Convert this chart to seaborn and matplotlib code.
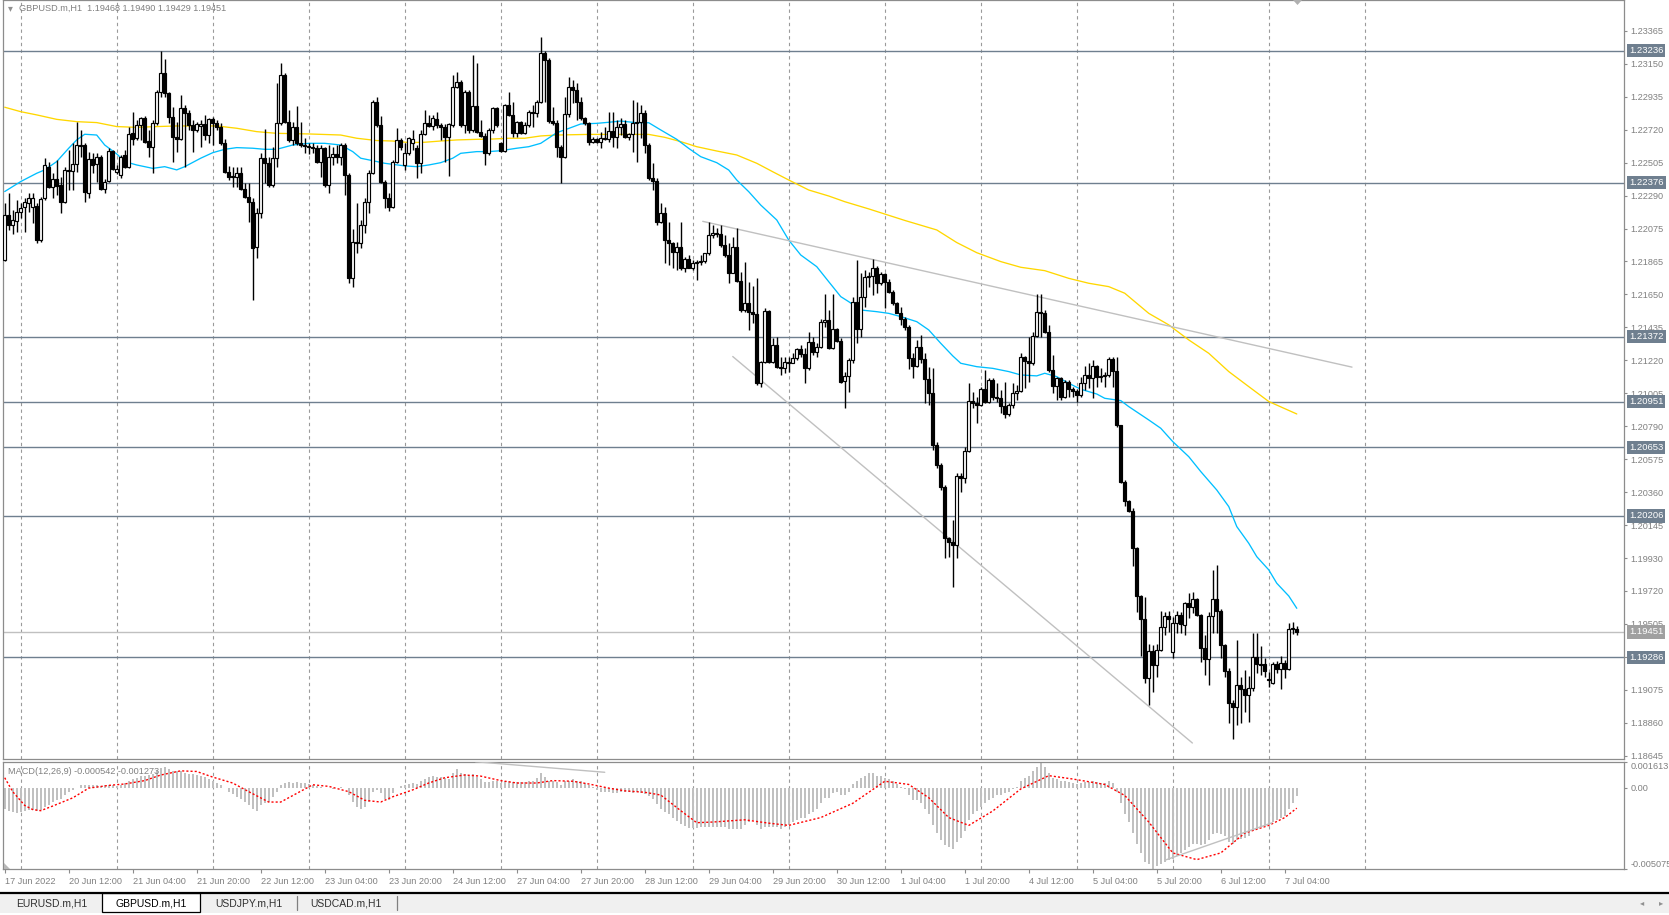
import numpy as np
import matplotlib
matplotlib.use("Agg")
import matplotlib.pyplot as plt
import matplotlib.transforms as mtransforms
from matplotlib.patches import Rectangle, Polygon
from matplotlib.lines import Line2D
import seaborn as sns

sns.set_style("white")
plt.rcParams['font.family'] = ['Liberation Sans', 'DejaVu Sans']

# ---- GBPUSD.m H1 candles, 17 Jun 2022 20:00 .. 7 Jul 2022 07:00 ----
opens = [
    1.21873, 1.22166, 1.22101, 1.22129, 1.22187, 1.22220, 1.22246, 1.22220, 1.22224, 1.22003,
    1.22274, 1.22480, 1.22346, 1.22398, 1.22361, 1.22252, 1.22459, 1.22454, 1.22498, 1.22615,
    1.22621, 1.22311, 1.22530, 1.22495, 1.22545, 1.22335, 1.22389, 1.22584, 1.22448, 1.22426,
    1.22556, 1.22480, 1.22697, 1.22665, 1.22752, 1.22795, 1.22647, 1.22606, 1.22767, 1.22964,
    1.23092, 1.22958, 1.22801, 1.22671, 1.22658, 1.22860, 1.22832, 1.22752, 1.22719, 1.22745,
    1.22756, 1.22686, 1.22788, 1.22762, 1.22741, 1.22632, 1.22448, 1.22411, 1.22411, 1.22437,
    1.22333, 1.22285, 1.22252, 1.21955, 1.22176, 1.22535, 1.22502, 1.22361, 1.22535, 1.22762,
    1.23077, 1.22773, 1.22654, 1.22741, 1.22632, 1.22621, 1.22615, 1.22606, 1.22600, 1.22513,
    1.22600, 1.22361, 1.22545, 1.22563, 1.22545, 1.22621, 1.22426, 1.21753, 1.21992, 1.21986,
    1.22101, 1.22252, 1.22441, 1.22903, 1.22752, 1.22383, 1.22274, 1.22220, 1.22513, 1.22654,
    1.22491, 1.22567, 1.22632, 1.22600, 1.22502, 1.22693, 1.22762, 1.22745, 1.22788, 1.22752,
    1.22741, 1.22671, 1.22752, 1.22997, 1.23034, 1.22752, 1.22969, 1.22719, 1.22875, 1.22708,
    1.22680, 1.22567, 1.22719, 1.22860, 1.22632, 1.22584, 1.22882, 1.22817, 1.22697, 1.22773,
    1.22702, 1.22752, 1.22838, 1.22828, 1.22903, 1.23218, 1.23175, 1.22780, 1.22762, 1.22610,
    1.22545, 1.22823, 1.23001, 1.22979, 1.22903, 1.22795, 1.22766, 1.22643, 1.22658, 1.22643,
    1.22664, 1.22658, 1.22714, 1.22675, 1.22740, 1.22758, 1.22675, 1.22693, 1.22762, 1.22773,
    1.22831, 1.22621, 1.22404, 1.22389, 1.22122, 1.22180, 1.22002, 1.21981, 1.21927, 1.21955,
    1.21818, 1.21877, 1.21822, 1.21855, 1.21861, 1.21868, 1.21916, 1.22035, 1.22050, 1.22042,
    1.21970, 1.21905, 1.21790, 1.21959, 1.21738, 1.21547, 1.21595, 1.21536, 1.21521, 1.21069,
    1.21210, 1.21542, 1.21210, 1.21319, 1.21178, 1.21167, 1.21210, 1.21204, 1.21232, 1.21291,
    1.21260, 1.21167, 1.21336, 1.21276, 1.21308, 1.21471, 1.21482, 1.21297, 1.21421, 1.21347,
    1.21087, 1.21118, 1.21222, 1.21601, 1.21421, 1.21634, 1.21764, 1.21769, 1.21818, 1.21721,
    1.21782, 1.21727, 1.21667, 1.21595, 1.21530, 1.21486, 1.21439, 1.21233, 1.21183, 1.21304,
    1.21226, 1.21096, 1.21005, 1.20668, 1.20538, 1.20397, 1.20061, 1.20039, 1.20017, 1.20467,
    1.20451, 1.20631, 1.20957, 1.20944, 1.20929, 1.21031, 1.20950, 1.21091, 1.20983, 1.20972,
    1.20922, 1.20868, 1.20929, 1.21005, 1.21022, 1.21239, 1.21217, 1.21204, 1.21378, 1.21536,
    1.21525, 1.21406, 1.21157, 1.21052, 1.21102, 1.20979, 1.21081, 1.21031, 1.21022, 1.20994,
    1.21074, 1.21124, 1.21102, 1.21183, 1.21113, 1.21118, 1.21124, 1.21226, 1.21152, 1.20799,
    1.20430, 1.20306, 1.20241, 1.19996, 1.19685, 1.19534, 1.19149, 1.19330, 1.19236, 1.19334,
    1.19481, 1.19555, 1.19323, 1.19512, 1.19562, 1.19497, 1.19638, 1.19612, 1.19664, 1.19562,
    1.19345, 1.19273, 1.19555, 1.19664, 1.19590, 1.19366, 1.19199, 1.18987, 1.18961, 1.19106,
    1.19078, 1.19041, 1.19084, 1.19286, 1.19243, 1.19243, 1.19139, 1.19117, 1.19243, 1.19208,
    1.19247, 1.19208, 1.19468, 1.19468,
]
highs = [
    1.22242, 1.22307, 1.22198, 1.22263, 1.22242, 1.22274, 1.22307, 1.22307, 1.22242, 1.22285,
    1.22535, 1.22513, 1.22437, 1.22524, 1.22415, 1.22480, 1.22589, 1.22632, 1.22773, 1.22719,
    1.22632, 1.22578, 1.22567, 1.22567, 1.22556, 1.22398, 1.22600, 1.22589, 1.22491, 1.22556,
    1.22589, 1.22741, 1.22838, 1.22784, 1.22806, 1.22810, 1.22719, 1.22784, 1.22979, 1.23235,
    1.23179, 1.22969, 1.22871, 1.22773, 1.22947, 1.22882, 1.22849, 1.22784, 1.22773, 1.22784,
    1.22817, 1.22795, 1.22801, 1.22784, 1.22762, 1.22658, 1.22485, 1.22480, 1.22480, 1.22480,
    1.22372, 1.22372, 1.22274, 1.22209, 1.22567, 1.22723, 1.22545, 1.22611, 1.23023, 1.23153,
    1.23088, 1.22849, 1.22773, 1.22875, 1.22773, 1.22665, 1.22632, 1.22632, 1.22621, 1.22621,
    1.22611, 1.22621, 1.22611, 1.22621, 1.22632, 1.22632, 1.22437, 1.22072, 1.22242, 1.22133,
    1.22274, 1.22459, 1.22914, 1.22936, 1.22810, 1.22394, 1.22307, 1.22524, 1.22730, 1.22665,
    1.22632, 1.22676, 1.22719, 1.22621, 1.22719, 1.22849, 1.22817, 1.22817, 1.22838, 1.22767,
    1.22758, 1.22767, 1.23077, 1.23099, 1.23045, 1.22979, 1.22979, 1.23207, 1.23153, 1.22784,
    1.22697, 1.22730, 1.22871, 1.22871, 1.22643, 1.22888, 1.22969, 1.22903, 1.22780, 1.22780,
    1.22773, 1.22849, 1.22882, 1.22914, 1.23327, 1.23235, 1.23186, 1.22871, 1.22784, 1.22621,
    1.22936, 1.23066, 1.23044, 1.23022, 1.22936, 1.22805, 1.22773, 1.22675, 1.22664, 1.22708,
    1.22740, 1.22838, 1.22838, 1.22784, 1.22795, 1.22784, 1.22701, 1.22914, 1.22903, 1.22881,
    1.22849, 1.22632, 1.22502, 1.22404, 1.22241, 1.22219, 1.22122, 1.21992, 1.21992, 1.22122,
    1.21894, 1.21905, 1.21872, 1.21872, 1.21905, 1.21916, 1.22122, 1.22100, 1.22078, 1.22100,
    1.22035, 1.21981, 1.22024, 1.22078, 1.21796, 1.21861, 1.21731, 1.21703, 1.21757, 1.21217,
    1.21558, 1.21547, 1.21362, 1.21373, 1.21243, 1.21243, 1.21243, 1.21265, 1.21297, 1.21319,
    1.21297, 1.21406, 1.21373, 1.21330, 1.21486, 1.21651, 1.21547, 1.21651, 1.21427, 1.21362,
    1.21146, 1.21233, 1.21634, 1.21873, 1.21786, 1.21808, 1.21797, 1.21877, 1.21834, 1.21797,
    1.21790, 1.21747, 1.21677, 1.21601, 1.21569, 1.21504, 1.21450, 1.21265, 1.21352, 1.21384,
    1.21265, 1.21178, 1.21167, 1.20690, 1.20549, 1.20408, 1.20072, 1.20180, 1.20484, 1.20484,
    1.20657, 1.21070, 1.21016, 1.20983, 1.21044, 1.21157, 1.21102, 1.21102, 1.21070, 1.21026,
    1.21081, 1.20940, 1.21074, 1.21059, 1.21265, 1.21248, 1.21374, 1.21406, 1.21651, 1.21651,
    1.21547, 1.21450, 1.21254, 1.21113, 1.21113, 1.21091, 1.21091, 1.21048, 1.21031, 1.21113,
    1.21183, 1.21200, 1.21222, 1.21189, 1.21167, 1.21146, 1.21243, 1.21243, 1.21243, 1.20799,
    1.20441, 1.20310, 1.20256, 1.20007, 1.19692, 1.19681, 1.19373, 1.19366, 1.19373, 1.19590,
    1.19583, 1.19590, 1.19551, 1.19590, 1.19583, 1.19649, 1.19707, 1.19714, 1.19671, 1.19568,
    1.19432, 1.19583, 1.19855, 1.19887, 1.19599, 1.19373, 1.19215, 1.19008, 1.19399, 1.19160,
    1.19204, 1.19165, 1.19442, 1.19442, 1.19360, 1.19280, 1.19193, 1.19258, 1.19264, 1.19295,
    1.19269, 1.19512, 1.19518, 1.19490,
]
lows = [
    1.21868, 1.22068, 1.22042, 1.22057, 1.22144, 1.22057, 1.22187, 1.22111, 1.21981, 1.21992,
    1.22263, 1.22339, 1.22274, 1.22296, 1.22176, 1.22242, 1.22328, 1.22328, 1.22448, 1.22545,
    1.22252, 1.22274, 1.22437, 1.22383, 1.22328, 1.22307, 1.22383, 1.22459, 1.22433, 1.22404,
    1.22469, 1.22469, 1.22621, 1.22654, 1.22654, 1.22637, 1.22545, 1.22441, 1.22752, 1.22936,
    1.22936, 1.22767, 1.22513, 1.22578, 1.22654, 1.22480, 1.22719, 1.22578, 1.22708, 1.22611,
    1.22654, 1.22632, 1.22621, 1.22719, 1.22621, 1.22437, 1.22393, 1.22350, 1.22350, 1.22328,
    1.22274, 1.22122, 1.21612, 1.21884, 1.22144, 1.22372, 1.22350, 1.22350, 1.22480, 1.22752,
    1.22762, 1.22643, 1.22621, 1.22621, 1.22611, 1.22567, 1.22563, 1.22567, 1.22502, 1.22415,
    1.22350, 1.22307, 1.22491, 1.22506, 1.22491, 1.22296, 1.21721, 1.21695, 1.21916, 1.21949,
    1.22046, 1.22176, 1.22433, 1.22741, 1.22372, 1.22209, 1.22194, 1.22209, 1.22502, 1.22589,
    1.22459, 1.22556, 1.22589, 1.22404, 1.22437, 1.22686, 1.22741, 1.22719, 1.22730, 1.22654,
    1.22513, 1.22420, 1.22741, 1.22990, 1.22741, 1.22697, 1.22697, 1.22708, 1.22697, 1.22676,
    1.22491, 1.22556, 1.22697, 1.22741, 1.22578, 1.22578, 1.22810, 1.22676, 1.22676, 1.22693,
    1.22693, 1.22741, 1.22741, 1.22806, 1.22893, 1.22903, 1.22762, 1.22752, 1.22545, 1.22371,
    1.22534, 1.22805, 1.22892, 1.22784, 1.22784, 1.22751, 1.22621, 1.22632, 1.22632, 1.22599,
    1.22653, 1.22643, 1.22610, 1.22599, 1.22686, 1.22664, 1.22653, 1.22578, 1.22512, 1.22664,
    1.22567, 1.22393, 1.22328, 1.22100, 1.22111, 1.21851, 1.21840, 1.21818, 1.21807, 1.21807,
    1.21796, 1.21818, 1.21807, 1.21742, 1.21840, 1.21851, 1.21905, 1.22013, 1.22024, 1.21959,
    1.21894, 1.21720, 1.21785, 1.21731, 1.21536, 1.21536, 1.21417, 1.21460, 1.21059, 1.21048,
    1.21200, 1.21200, 1.21200, 1.21167, 1.21124, 1.21134, 1.21145, 1.21200, 1.21221, 1.21243,
    1.21069, 1.21156, 1.21254, 1.21243, 1.21297, 1.21438, 1.21291, 1.21291, 1.21341, 1.21069,
    1.20907, 1.21016, 1.21200, 1.21330, 1.21374, 1.21569, 1.21699, 1.21645, 1.21656, 1.21710,
    1.21558, 1.21656, 1.21580, 1.21525, 1.21450, 1.21417, 1.21161, 1.21102, 1.21178, 1.21200,
    1.20940, 1.20929, 1.20636, 1.20516, 1.20375, 1.19931, 1.19941, 1.19746, 1.19931, 1.20365,
    1.20419, 1.20625, 1.20907, 1.20814, 1.20922, 1.20944, 1.20944, 1.20961, 1.20950, 1.20879,
    1.20842, 1.20857, 1.20907, 1.20961, 1.21016, 1.21037, 1.21081, 1.21189, 1.21369, 1.21374,
    1.21395, 1.21146, 1.21005, 1.20961, 1.20961, 1.20972, 1.20983, 1.20983, 1.20950, 1.20983,
    1.21026, 1.21037, 1.20972, 1.21048, 1.21081, 1.21048, 1.21113, 1.21048, 1.20788, 1.20419,
    1.20274, 1.20234, 1.19881, 1.19583, 1.19295, 1.19117, 1.18976, 1.19063, 1.19160, 1.19330,
    1.19432, 1.19453, 1.19280, 1.19447, 1.19447, 1.19432, 1.19540, 1.19573, 1.19555, 1.19258,
    1.19171, 1.19106, 1.19442, 1.19442, 1.19280, 1.19156, 1.18856, 1.18752, 1.18846, 1.18856,
    1.18932, 1.18867, 1.19069, 1.19182, 1.19171, 1.19160, 1.19095, 1.19113, 1.19182, 1.19078,
    1.19149, 1.19204, 1.19438, 1.19429,
]
closes = [
    1.22166, 1.22101, 1.22133, 1.22187, 1.22209, 1.22252, 1.22274, 1.22274, 1.22003, 1.22268,
    1.22491, 1.22350, 1.22398, 1.22354, 1.22252, 1.22459, 1.22454, 1.22498, 1.22621, 1.22621,
    1.22318, 1.22530, 1.22491, 1.22541, 1.22335, 1.22383, 1.22584, 1.22467, 1.22465, 1.22545,
    1.22480, 1.22691, 1.22658, 1.22752, 1.22795, 1.22643, 1.22606, 1.22767, 1.22969, 1.23092,
    1.22962, 1.22801, 1.22671, 1.22658, 1.22860, 1.22832, 1.22752, 1.22719, 1.22758, 1.22758,
    1.22686, 1.22788, 1.22762, 1.22741, 1.22632, 1.22448, 1.22415, 1.22420, 1.22437, 1.22333,
    1.22285, 1.22252, 1.21949, 1.22181, 1.22539, 1.22502, 1.22361, 1.22535, 1.22762, 1.23077,
    1.22773, 1.22654, 1.22741, 1.22632, 1.22621, 1.22615, 1.22606, 1.22600, 1.22513, 1.22600,
    1.22361, 1.22545, 1.22563, 1.22545, 1.22621, 1.22426, 1.21753, 1.21992, 1.21986, 1.22101,
    1.22252, 1.22441, 1.22903, 1.22752, 1.22383, 1.22274, 1.22220, 1.22513, 1.22654, 1.22606,
    1.22571, 1.22665, 1.22658, 1.22502, 1.22693, 1.22762, 1.22745, 1.22795, 1.22752, 1.22741,
    1.22671, 1.22758, 1.22997, 1.23034, 1.22752, 1.22969, 1.22719, 1.22875, 1.22708, 1.22680,
    1.22567, 1.22719, 1.22860, 1.22752, 1.22584, 1.22882, 1.22817, 1.22697, 1.22773, 1.22702,
    1.22752, 1.22838, 1.22828, 1.22903, 1.23218, 1.23175, 1.22780, 1.22762, 1.22610, 1.22545,
    1.22823, 1.23001, 1.22979, 1.22903, 1.22795, 1.22766, 1.22643, 1.22658, 1.22643, 1.22664,
    1.22658, 1.22714, 1.22675, 1.22740, 1.22758, 1.22675, 1.22693, 1.22762, 1.22773, 1.22831,
    1.22621, 1.22404, 1.22389, 1.22122, 1.22180, 1.22002, 1.21981, 1.21927, 1.21955, 1.21818,
    1.21877, 1.21822, 1.21855, 1.21861, 1.21868, 1.21916, 1.22035, 1.22050, 1.22042, 1.21970,
    1.21905, 1.21790, 1.21959, 1.21738, 1.21547, 1.21595, 1.21536, 1.21521, 1.21069, 1.21210,
    1.21542, 1.21210, 1.21319, 1.21178, 1.21167, 1.21210, 1.21204, 1.21232, 1.21291, 1.21260,
    1.21167, 1.21336, 1.21276, 1.21308, 1.21471, 1.21482, 1.21297, 1.21421, 1.21347, 1.21080,
    1.21118, 1.21222, 1.21601, 1.21421, 1.21634, 1.21764, 1.21769, 1.21818, 1.21721, 1.21782,
    1.21727, 1.21667, 1.21595, 1.21530, 1.21486, 1.21439, 1.21233, 1.21183, 1.21304, 1.21226,
    1.21096, 1.21005, 1.20668, 1.20538, 1.20397, 1.20061, 1.20039, 1.20017, 1.20467, 1.20451,
    1.20631, 1.20957, 1.20944, 1.20929, 1.21031, 1.20950, 1.21091, 1.20983, 1.20972, 1.20922,
    1.20868, 1.20929, 1.21005, 1.21022, 1.21239, 1.21217, 1.21204, 1.21378, 1.21536, 1.21525,
    1.21406, 1.21157, 1.21052, 1.21102, 1.20979, 1.21081, 1.21031, 1.21022, 1.20994, 1.21074,
    1.21124, 1.21102, 1.21183, 1.21113, 1.21118, 1.21124, 1.21226, 1.21152, 1.20799, 1.20430,
    1.20306, 1.20241, 1.19996, 1.19685, 1.19534, 1.19149, 1.19330, 1.19236, 1.19334, 1.19481,
    1.19555, 1.19534, 1.19512, 1.19562, 1.19503, 1.19638, 1.19612, 1.19664, 1.19562, 1.19345,
    1.19273, 1.19555, 1.19664, 1.19590, 1.19366, 1.19199, 1.18987, 1.18961, 1.19106, 1.19078,
    1.19041, 1.19084, 1.19286, 1.19243, 1.19238, 1.19199, 1.19143, 1.19243, 1.19208, 1.19247,
    1.19208, 1.19468, 1.19475, 1.19451,
]

# moving averages read at sample bars (bar index, price)
ma_fast_idx = [0, 4, 8, 10, 13, 16, 18, 20, 23, 25, 28, 30, 33, 37, 40, 43, 45, 49, 52, 55,
               58, 62, 65, 68, 72, 76, 80, 84, 87, 89, 92, 95, 100, 103, 106, 109, 112, 114, 118, 121,
               124, 128, 131, 134, 138, 141, 144, 148, 151, 154, 158, 161, 164, 168, 171, 174, 178, 181, 183, 186,
               189, 193, 196, 199, 203, 206, 209, 211, 214, 218, 221, 224, 228, 231, 234, 237, 239, 243, 247, 251,
               254, 258, 260, 263, 266, 269, 273, 275, 279, 281, 286, 289, 292, 296, 299, 303, 306, 308, 311, 313,
               316, 318, 321, 323]
ma_fast = [1.22318, 1.22383, 1.22437, 1.22459, 1.22513, 1.22600, 1.22654, 1.22691, 1.22686, 1.22621,
           1.22563, 1.22513, 1.22491, 1.22469, 1.22480, 1.22459, 1.22480, 1.22535, 1.22571, 1.22593,
           1.22604, 1.22600, 1.22593, 1.22593, 1.22621, 1.22632, 1.22632, 1.22621, 1.22578, 1.22535,
           1.22519, 1.22502, 1.22485, 1.22480, 1.22491, 1.22506, 1.22535, 1.22567, 1.22578, 1.22578,
           1.22584, 1.22600, 1.22610, 1.22632, 1.22701, 1.22729, 1.22758, 1.22762, 1.22769, 1.22777,
           1.22766, 1.22766, 1.22719, 1.22658, 1.22599, 1.22545, 1.22506, 1.22458, 1.22393, 1.22317,
           1.22230, 1.22133, 1.22002, 1.21905, 1.21829, 1.21731, 1.21634, 1.21601, 1.21547, 1.21536,
           1.21525, 1.21504, 1.21471, 1.21417, 1.21330, 1.21248, 1.21200, 1.21178, 1.21167, 1.21146,
           1.21124, 1.21118, 1.21135, 1.21113, 1.21070, 1.21031, 1.21000, 1.20972, 1.20957, 1.20918,
           1.20831, 1.20777, 1.20690, 1.20592, 1.20495, 1.20375, 1.20267, 1.20137, 1.20028, 1.19941,
           1.19855, 1.19768, 1.19685, 1.19605]
ma_slow_idx = [0, 4, 8, 13, 18, 23, 28, 33, 38, 43, 48, 53, 58, 63, 68, 76, 84, 88, 93, 97,
               101, 105, 109, 113, 118, 122, 126, 130, 134, 138, 146, 154, 161, 165, 169, 173, 178, 183, 188, 192,
               196, 201, 206, 210, 216, 225, 233, 238, 243, 249, 254, 260, 266, 271, 276, 280, 286, 291, 296, 301,
               306, 311, 316, 323]
ma_slow = [1.22867, 1.22838, 1.22817, 1.22788, 1.22773, 1.22767, 1.22741, 1.22736, 1.22741, 1.22745,
           1.22745, 1.22745, 1.22730, 1.22708, 1.22697, 1.22693, 1.22686, 1.22665, 1.22650, 1.22647,
           1.22637, 1.22639, 1.22647, 1.22654, 1.22658, 1.22660, 1.22665, 1.22665, 1.22680, 1.22686,
           1.22690, 1.22690, 1.22690, 1.22671, 1.22643, 1.22610, 1.22582, 1.22556, 1.22502, 1.22447,
           1.22393, 1.22328, 1.22289, 1.22252, 1.22205, 1.22130, 1.22068, 1.21986, 1.21920, 1.21862,
           1.21825, 1.21803, 1.21753, 1.21721, 1.21699, 1.21656, 1.21525, 1.21450, 1.21352, 1.21265,
           1.21146, 1.21048, 1.20951, 1.20870]

# MACD(12,26,9) main histogram, one value per bar, in units of 1e-4
macd_main_e4 = [
    -13.2, -14.3, -15.3, -15.8, -15.3, -14.3, -13.6, -13.6, -14.3, -13.6,
    -12.1, -10.6, -8.9, -7.8, -6.7, -4.5, -2.8, -1.3, -0.2, 1.5,
    1.9, 1.9, 1.5, 1.5, 1.3, 1.5, 1.9, 1.5, 0.9, 1.9,
    3.0, 4.5, 5.2, 6.3, 7.3, 7.3, 8.0, 8.9, 10.6, 12.3,
    13.2, 11.7, 10.6, 10.2, 10.6, 9.5, 8.9, 8.4, 8.0, 7.3,
    6.7, 5.8, 4.5, 3.0, 1.5, -0.2, -2.4, -4.1, -5.6, -6.7,
    -8.9, -10.6, -13.2, -14.3, -11.0, -9.3, -8.9, -5.6, -2.4, 1.9,
    3.0, 3.7, 3.0, 3.7, 3.0, 3.0, 2.4, 1.5, 0.9, 0.2,
    -0.2, -0.2, -0.6, -0.2, 0.2, -0.2, -4.5, -8.9, -12.1, -13.2,
    -12.1, -8.9, -2.4, -1.3, -3.5, -6.7, -7.8, -3.5, -0.2, 0.9,
    1.5, 2.4, 3.0, 2.4, 4.1, 5.8, 6.7, 7.3, 6.7, 6.7,
    6.3, 5.8, 9.5, 11.7, 9.5, 8.9, 7.3, 8.9, 6.7, 5.2,
    3.7, 3.7, 4.5, 4.1, 3.0, 4.1, 4.1, 3.7, 3.7, 3.7,
    3.7, 4.1, 4.1, 6.3, 9.5, 6.7, 4.5, 4.1, 3.7, 1.9,
    4.1, 4.5, 5.2, 4.5, 4.1, 3.0, 1.5, 0.2, -1.3, -2.4,
    -2.8, -2.8, -3.5, -3.5, -2.8, -2.8, -2.8, -3.5, -2.8, -3.5,
    -4.1, -5.0, -6.7, -9.9, -13.2, -14.9, -16.4, -18.6, -20.7, -22.9,
    -24.0, -25.1, -25.1, -25.1,
    -24.8, -24.8, -24.8, -24.8, -24.8, -24.8, -24.8, -25.5, -25.5, -25.5,
    -25.5, -23.5, -21.4, -20.0, -23.5, -25.5, -24.2, -24.8, -24.2, -24.8,
    -25.5, -24.2, -23.5, -21.4, -20.0, -18.6, -18.6, -16.6, -15.2, -13.1,
    -9.7, -6.2, -6.2, -3.5, -2.8, -4.8, -4.8, -2.8, 2.1, 4.1,
    6.2, 7.6, 9.0, 9.0, 7.6, 7.6, 6.2, 5.5, 4.1, 2.1,
    0.7, -0.7, -4.8, -7.6, -7.6, -9.7, -13.1, -16.6, -23.5, -28.3,
    -32.4, -35.9, -37.3, -38.0, -33.8, -31.1, -26.9, -20.0, -16.6, -14.5,
    -11.7, -9.7, -7.6, -6.2, -4.8, -4.8, -3.5, -2.8, -0.7, 0.7,
    4.1, 6.2, 7.6, 10.4, 13.1, 16.13, 13.1, 9.0, 6.2, 5.5,
    4.1, 4.1, 3.5, 2.8, 2.1, 2.8, 3.5, 3.5, 4.1, 3.5,
    2.8, 2.8, 4.1, 2.8, -2.8, -9.7, -16.6, -21.4, -28.3, -35.2,
    -40.7, -46.2, -47.6, -50.75, -49.0, -47.6, -46.2, -44.9, -44.2, -42.8,
    -40.7, -38.6, -37.3, -35.2, -35.2, -35.9, -35.2, -32.4, -29.0, -28.3,
    -29.0, -30.4, -33.8, -35.2, -32.4, -31.7, -31.1, -30.4, -26.9, -25.5,
    -24.2, -23.5, -23.5, -21.4, -20.0, -18.6, -17.9, -13.1, -9.7, -5.42,
]
# signal line read at sample bars, units of 1e-4
signal_idx = [0, 2, 5, 7, 9, 12, 17, 21, 26, 30, 35, 39, 44, 48, 52, 57, 61, 66, 69, 73,
              77, 81, 86, 90, 94, 97, 102, 106, 110, 115, 119, 124, 128, 133, 137, 142, 146, 151, 155, 160,
              164, 169, 173, 177, 185, 191, 196, 204, 212, 220, 226, 231, 236, 241, 247, 254, 261, 267, 275, 280,
              286, 292, 298, 304, 310, 316, 320, 323]
signal_e4 = [6.3, -2.4, -11.0, -13.6, -14.3, -11.4, -6.3, -0.2, 1.5, 2.4, 4.5, 8.0, 10.6, 10.2, 6.7, 3.0,
             -2.4, -8.9, -8.9, -3.5, 1.9, 0.9, -2.4, -7.8, -8.9, -5.6, -1.3, 3.0, 6.3, 8.0, 7.3, 4.5,
             3.0, 3.0, 4.5, 4.1, 2.4, -0.2, -1.9, -2.8, -4.5, -14.3, -21.8, -21.4, -20.0, -22.1, -23.5,
             -18.6, -9.7, 4.1, 2.1, -6.2, -18.6, -23.5, -14.5, -0.7, 7.6, 5.5, 2.1, -4.8, -21.4, -40.7,
             -44.9, -40.7, -28.3, -23.5, -18.6, -12.73]

# horizontal levels, bid, trend lines (bar index, value)
level_prices = [1.23236, 1.22376, 1.21372, 1.20951, 1.20653, 1.20206, 1.19286]
bid_price = 1.19451
trend_upper_x, trend_upper_y = [174.5, 336.8], [1.22124, 1.21175]
trend_lower_x, trend_lower_y = [182.0, 296.9], [1.21244, 1.18728]
macd_trend1_x, macd_trend1_y = [117.7, 150.0], [0.00163, 0.00097]
macd_trend2_x, macd_trend2_y = [290.2, 316.8], [-0.00451, -0.00219]

day_starts = [4, 28, 52, 76, 100, 124, 148, 172, 196, 220, 244, 268, 292, 316, 340]
price_ticks = [1.23365, 1.23150, 1.22935, 1.22720, 1.22505, 1.22290, 1.22075, 1.21865, 1.21650,
               1.21435, 1.21220, 1.21005, 1.20790, 1.20575, 1.20360, 1.20145, 1.19930, 1.19720,
               1.19505, 1.19290, 1.19075, 1.18860, 1.18645]
time_tick_idx = list(range(0, 321, 16))
time_labels = ["17 Jun 2022", "20 Jun 12:00", "21 Jun 04:00", "21 Jun 20:00", "22 Jun 12:00",
               "23 Jun 04:00", "23 Jun 20:00", "24 Jun 12:00", "27 Jun 04:00", "27 Jun 20:00",
               "28 Jun 12:00", "29 Jun 04:00", "29 Jun 20:00", "30 Jun 12:00", "1 Jul 04:00",
               "1 Jul 20:00", "4 Jul 12:00", "5 Jul 04:00", "5 Jul 20:00", "6 Jul 12:00", "7 Jul 04:00"]
tab_names = ["EURUSD.m,H1", "GBPUSD.m,H1", "USDJPY.m,H1", "USDCAD.m,H1"]

assert len(opens) == len(highs) == len(lows) == len(closes) == len(macd_main_e4) == 324

# ---- figure in pixel layout ----
W, H = 1669, 915
GRAY_TXT = "#808080"
LEVEL_C = "#6f7f8f"
fig = plt.figure(figsize=(W / 100, H / 100), dpi=100)


def px_axes(x0, y0, x1, y1):
    return fig.add_axes([x0 / W, 1 - y1 / H, (x1 - x0) / W, (y1 - y0) / H])


def fig_rect(x0, y0, x1, y1, **kw):
    fig.patches.append(Rectangle((x0 / W, 1 - y1 / H), (x1 - x0) / W, (y1 - y0) / H,
                                 transform=fig.transFigure, **kw))


def fig_line(xs, ys, **kw):
    fig.lines.append(Line2D([v / W for v in xs], [1 - v / H for v in ys],
                            transform=fig.transFigure, **kw))


ax = px_axes(3, 0, 1624, 759)
axm = px_axes(3, 762, 1624, 869)
XMIN, XMAX = -0.425, 404.8
for a in (ax, axm):
    a.set_xlim(XMIN, XMAX)
    for s in a.spines.values():
        s.set_color("#8c8c8c")
        s.set_linewidth(0.9)
    for d in day_starts:
        a.axvline(d, color="#9a9a9a", ls=(0, (3, 3)), lw=0.8, zorder=0)
ax.set_ylim(1.186239, 1.23565)
axm.set_ylim(-0.005075, 0.001613)

x = np.arange(len(closes))
o, h, l, c = map(np.array, (opens, highs, lows, closes))
up = c >= o
body = np.maximum(np.abs(c - o), 0.00003)

# levels
for p in level_prices:
    ax.axhline(p, color=LEVEL_C, lw=1.0, zorder=1)
ax.axhline(bid_price, color="#c0c0c0", lw=1.0, zorder=1)

# moving averages
sns.lineplot(x=ma_slow_idx, y=ma_slow, ax=ax, color="#FFD700", linewidth=0.95, legend=False, zorder=2)
sns.lineplot(x=ma_fast_idx, y=ma_fast, ax=ax, color="#00BFFF", linewidth=0.95, legend=False, zorder=2)

# trend lines
ax.plot(trend_upper_x, trend_upper_y, color="#c0c0c0", lw=1.0, zorder=2)
ax.plot(trend_lower_x, trend_lower_y, color="#c0c0c0", lw=1.0, zorder=2)

# candles
ax.vlines(x, l, h, color="black", lw=1.0, zorder=3)
ax.bar(x[up], body[up], bottom=o[up], width=0.8, color="white", edgecolor="black", linewidth=0.85, zorder=4)
ax.bar(x[~up], body[~up], bottom=c[~up], width=0.8, color="black", edgecolor="black", linewidth=0.85, zorder=4)

# price axis
ax.set_xticks([])
ax.yaxis.tick_right()
ax.set_yticks(price_ticks)
ax.set_yticklabels([f"{p:.5f}" for p in price_ticks])
ax.tick_params(axis="y", right=True, left=False, length=2.2, width=0.8, color="#8c8c8c",
               labelsize=6.6, labelcolor=GRAY_TXT, pad=2.5)

lab_tr = mtransforms.offset_copy(ax.get_yaxis_transform(), fig=fig, x=5, y=0, units="dots")
for p in level_prices:
    ax.text(1.0, p, f"{p:.5f}", transform=lab_tr, ha="left", va="center", fontsize=6.8, color="white",
            zorder=10, clip_on=False,
            bbox=dict(boxstyle="square,pad=0.22", fc=LEVEL_C, ec="none"))
ax.text(1.0, bid_price, f"{bid_price:.5f}", transform=lab_tr, ha="left", va="center", fontsize=6.8,
        color="white", zorder=10, clip_on=False, bbox=dict(boxstyle="square,pad=0.22", fc="#a0a0a0", ec="none"))

# MACD panel
macd_main = np.array(macd_main_e4) * 1e-4
axm.bar(x, macd_main, width=0.5, color="#c0c0c0", linewidth=0, zorder=2)
sns.lineplot(x=signal_idx, y=np.array(signal_e4) * 1e-4, ax=axm, color="red", linewidth=1.0,
             linestyle=(0, (1.5, 1.5)), legend=False, zorder=3)
axm.plot(macd_trend1_x, macd_trend1_y, color="#c0c0c0", lw=1.0, zorder=3)
axm.plot(macd_trend2_x, macd_trend2_y, color="#c0c0c0", lw=1.0, zorder=3)
axm.yaxis.tick_right()
axm.set_yticks([0.001613, 0.0, -0.005075])
axm.set_yticklabels(["0.001613", "0.00", "-0.005075"])
yl = axm.get_yticklabels()
yl[0].set_va("top")
yl[2].set_va("bottom")
axm.tick_params(axis="y", right=True, left=False, length=2.2, width=0.8, color="#8c8c8c",
                labelsize=6.6, labelcolor=GRAY_TXT, pad=2.5)
axm.set_xticks(time_tick_idx)
axm.set_xticklabels(time_labels)
for t in axm.get_xticklabels():
    t.set_ha("left")
axm.tick_params(axis="x", bottom=True, length=3, width=0.8, color="#8c8c8c",
                labelsize=6.6, labelcolor=GRAY_TXT, pad=3)
axm.set_xlabel("")
axm.set_ylabel("")
ax.set_xlabel("")
ax.set_ylabel("")

# header texts
fig.text(8 / W, 1 - 8 / H, "\u25BE", fontsize=7, color="#909090", va="center", ha="left",
         family=["DejaVu Sans"])
fig.text(19 / W, 1 - 8 / H, "GBPUSD.m,H1  1.19468 1.19490 1.19429 1.19451", fontsize=6.6,
         color=GRAY_TXT, va="center", ha="left")
fig.text(8 / W, 1 - 771 / H, "MACD(12,26,9) -0.000542 -0.001273", fontsize=6.6,
         color=GRAY_TXT, va="center", ha="left")

# chart-shift marker and corner marker
fig.patches.append(Polygon([(1293 / W, 1.0), (1302 / W, 1.0), (1297.5 / W, 1 - 5 / H)],
                           closed=True, transform=fig.transFigure, fc="#b0b0b0", ec="none"))
fig.patches.append(Polygon([(4 / W, 1 - 863 / H), (4 / W, 1 - 869 / H), (10 / W, 1 - 869 / H)],
                           closed=True, transform=fig.transFigure, fc="#b8b8b8", ec="none"))

# bottom tab bar
fig_rect(0, 894, W, 913, fc="#f0f0f0", ec="none")
fig_line([0, W], [893, 893], color="black", lw=1.6)
fig_rect(102, 893, 200, 912, fc="white", ec="black", lw=0.9)
tab_cx = [52, 151, 249, 346]
for name, cx in zip(tab_names, tab_cx):
    fig.text(cx / W, 1 - 903 / H, name, fontsize=7.5, color="#303030" if name != "GBPUSD.m,H1" else "black",
             ha="center", va="center")
for sx in (297, 397):
    fig_line([sx, sx], [896, 910], color="#808080", lw=0.9)
fig.text(1642 / W, 1 - 903 / H, "\u25C2", fontsize=6, color="#909090", ha="center", va="center",
         family=["DejaVu Sans"])
fig.text(1661 / W, 1 - 903 / H, "\u25B8", fontsize=6, color="#909090", ha="center", va="center",
         family=["DejaVu Sans"])

fig.savefig("out.png", dpi=100, facecolor="white")
